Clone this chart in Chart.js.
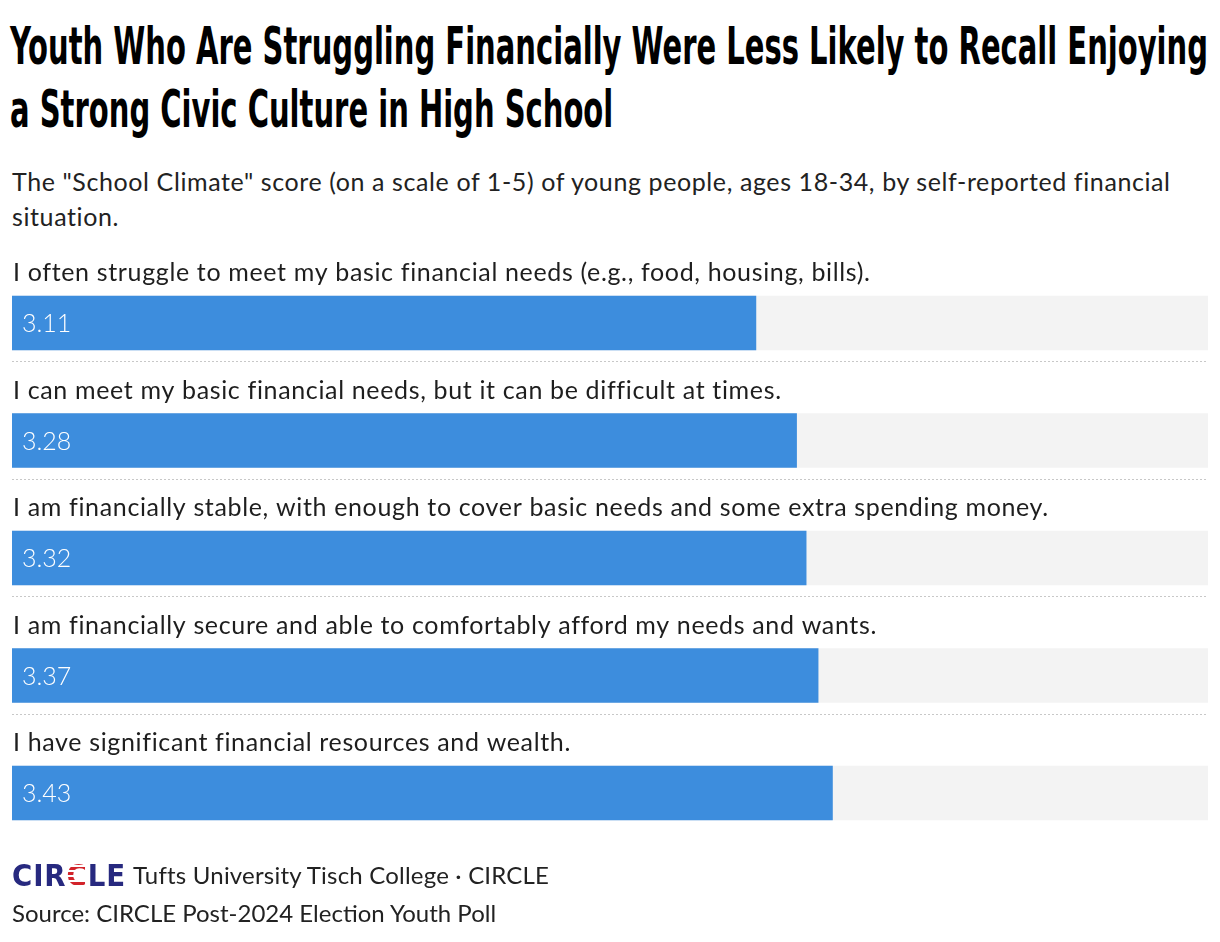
<!DOCTYPE html>
<html><head><meta charset="utf-8">
<script src="https://cdn.jsdelivr.net/npm/chart.js@4"></script>
<style>
html,body{margin:0;padding:0;background:#fff;}
body{width:1220px;height:942px;position:relative;overflow:hidden;font-family:Lato,"Noto Sans",sans-serif;color:#222;}
#title{position:absolute;left:10px;top:15px;font-family:"DejaVu Sans Condensed","DejaVu Sans",sans-serif;font-weight:bold;font-size:52px;line-height:63px;white-space:nowrap;transform-origin:0 0;color:#000;}
#title span{display:inline-block;}
#subtitle{position:absolute;left:12px;top:164px;font-size:25px;letter-spacing:0.6px;line-height:35px;white-space:nowrap;color:#222;}
#chart{position:absolute;left:0;top:0;}
#credit{position:absolute;left:133px;top:858px;font-size:24px;letter-spacing:0.2px;line-height:34px;white-space:nowrap;color:#222;}
#logo{position:absolute;left:12px;top:860px;font-family:"DejaVu Sans","Noto Sans",sans-serif;font-weight:900;font-size:31px;line-height:31px;color:#27297f;letter-spacing:1px;white-space:nowrap;transform-origin:0 0;}
#logo .c2{background:repeating-linear-gradient(180deg,#d2232a 0 3px,#fff 3px 5px);-webkit-background-clip:text;background-clip:text;color:transparent;}
#source{position:absolute;left:12px;top:896px;font-size:24px;line-height:34px;white-space:nowrap;color:#222;}
</style></head>
<body>
<div id="title"><span id="t1">Youth Who Are Struggling Financially Were Less Likely to Recall Enjoying</span><br><span id="t2">a Strong Civic Culture in High School</span></div>
<div id="subtitle">The "School Climate" score (on a scale of 1-5) of young people, ages 18-34, by self-reported financial<br>situation.</div>
<canvas id="chart" width="1220" height="942"></canvas>
<div id="logo">CIR<span class="c2">C</span>LE</div>
<div id="credit">Tufts University Tisch College · CIRCLE</div>
<div id="source">Source: CIRCLE Post-2024 Election Youth Poll</div>
<script>
const categories = [
  "I often struggle to meet my basic financial needs (e.g., food, housing, bills).",
  "I can meet my basic financial needs, but it can be difficult at times.",
  "I am financially stable, with enough to cover basic needs and some extra spending money.",
  "I am financially secure and able to comfortably afford my needs and wants.",
  "I have significant financial resources and wealth."
];
const scores = [3.11, 3.28, 3.32, 3.37, 3.43];
const scaleMin = 0;
const scaleMax = 5;
const track = categories.map(() => scaleMax);

// fit title and logo widths
(function(){
  const t = document.getElementById('title');
  const w = document.getElementById('t1').getBoundingClientRect().width;
  t.style.transform = 'scaleX(' + (1198 / w) + ')';
  const lg = document.getElementById('logo');
  const lw = lg.getBoundingClientRect().width;
  lg.style.transform = 'scaleX(' + (114 / lw) + ')';
})();

const overlay = {
  id: 'overlay',
  afterDatasetsDraw(chart) {
    const ctx = chart.ctx;
    const xs = chart.scales.x;
    const meta = chart.getDatasetMeta(0);
    ctx.save();
    categories.forEach((c, i) => {
      const bar = meta.data[i];
      const top = bar.y - bar.height / 2;
      const bottom = bar.y + bar.height / 2;
      ctx.font = '25px Lato, "Noto Sans", sans-serif';
      ctx.letterSpacing = '0.65px';
      ctx.textAlign = 'left';
      ctx.textBaseline = 'alphabetic';
      ctx.fillStyle = '#1e1e1e';
      ctx.fillText(c, xs.left + 1, top - 15);
      ctx.fillStyle = '#fff';
      ctx.font = '300 25px Lato, "Noto Sans", sans-serif';
      ctx.letterSpacing = '0px';
      ctx.textBaseline = 'middle';
      ctx.fillText(scores[i].toFixed(2), xs.left + 10, bar.y + 1);
      if (i < categories.length - 1) {
        ctx.strokeStyle = '#c8c8c8';
        ctx.lineWidth = 1;
        ctx.setLineDash([2, 2]);
        ctx.beginPath();
        const ly = Math.round(bottom + 11) + 0.5;
        ctx.moveTo(xs.left, ly);
        ctx.lineTo(xs.right, ly);
        ctx.stroke();
      }
    });
    ctx.restore();
  }
};

new Chart(document.getElementById('chart'), {
  type: 'bar',
  data: {
    labels: categories,
    datasets: [
      { data: scores, backgroundColor: '#3d8ddd', barThickness: 54, grouped: false, borderWidth: 0 },
      { data: track, backgroundColor: '#f3f3f3', barThickness: 54, grouped: false, borderWidth: 0 }
    ]
  },
  options: {
    indexAxis: 'y',
    responsive: false,
    animation: false,
    events: [],
    layout: { padding: { left: 12, right: 12, top: 264.25, bottom: 90.25 } },
    plugins: { legend: { display: false }, tooltip: { enabled: false } },
    scales: {
      x: { display: false, min: scaleMin, max: scaleMax },
      y: { display: false }
    }
  },
  plugins: [overlay]
});
</script>
</body></html>
